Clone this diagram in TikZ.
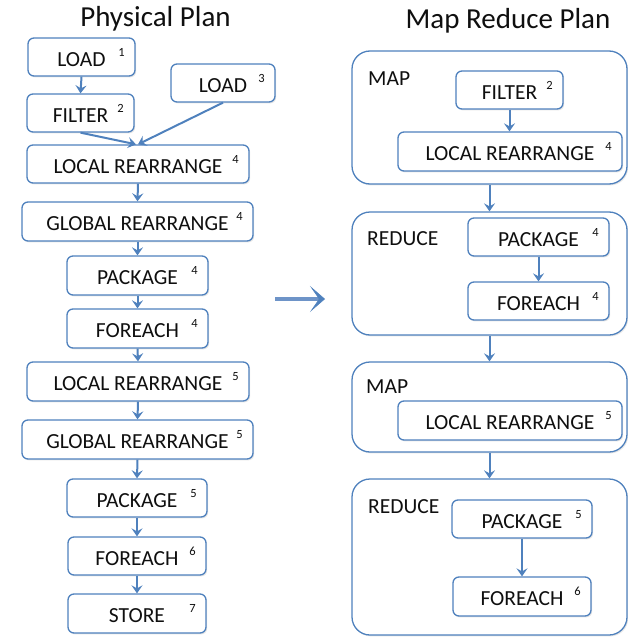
\documentclass[tikz,border=0pt]{standalone}
\usepackage{fontspec}
\setmainfont{Carlito}
\usetikzlibrary{arrows.meta,shadows,calc}
\definecolor{bblue}{RGB}{79,129,189}
\definecolor{bigblue}{RGB}{110,148,200}
\definecolor{txt}{RGB}{15,15,15}
\tikzset{
  opbox/.style={draw=bblue, line width=1.3pt, fill=white, rounded corners=6pt,
    inner sep=0pt, text=txt, font=\fontsize{21.5}{23}\selectfont,
    text height=18pt, text depth=0pt,
    drop shadow={opacity=0.2, shadow xshift=1.2pt, shadow yshift=-1.4pt}},
  supnum/.style={inner sep=0pt, text=txt, font=\fontsize{12.5}{13}\selectfont},
  stage/.style={draw=bblue, line width=1.3pt, fill=white, rounded corners=18pt,
    inner sep=0pt,
    drop shadow={opacity=0.2, shadow xshift=1.2pt, shadow yshift=-1.4pt}},
  stagelabel/.style={anchor=base west, inner sep=0pt, text=txt,
    font=\fontsize{21.5}{23}\selectfont},
  title/.style={anchor=base, inner sep=0pt, text=txt, font=\fontsize{29}{31}\selectfont},
  flow/.style={draw=bblue, line width=2pt, -{Stealth[length=8pt,width=11pt,inset=3pt]}},
  bigflow/.style={draw=bigblue, line width=4.5pt, -{Stealth[length=15pt,width=26pt,inset=9pt,color=bblue,fill=bblue,line width=0.5pt]}}
}
\newcommand\opnode[7]{%
  \node[opbox, minimum width={(#4-#2)*1pt}, minimum height={(#5-#3)*1pt}] (#1) at ({(#2+#4)/2},{(#3+#5)/2}) {#6};
  \node[supnum] (#1-n) at ({#4-13.5},{#3+14.5}) {#7};
}
\newcommand\stagenode[5]{%
  \node[stage, minimum width={(#4-#2)*1pt}, minimum height={(#5-#3)*1pt}] (#1) at ({(#2+#4)/2},{(#3+#5)/2}) {};
}
\begin{document}
\begin{tikzpicture}[x=1pt,y=-1pt]
\useasboundingbox (0,0) rectangle (628,637);
% titles
\node[title] (t1) at (155.5,27) {Physical Plan};
\node[title] (t2) at (508,28.5) {Map Reduce Plan};
% physical plan
\opnode{load1}{28}{38}{135}{76}{LOAD}{1}
\opnode{load3}{171}{64}{275}{102}{LOAD}{3}
\opnode{filter2}{27}{94}{134}{132}{FILTER}{2}
\opnode{lr4}{27}{145}{249}{183}{LOCAL REARRANGE}{4}
\opnode{gr4}{22}{202}{253}{241}{GLOBAL REARRANGE}{4}
\opnode{pk4}{67}{256}{208}{295}{PACKAGE}{4}
\opnode{fe4}{67}{309}{208}{348}{FOREACH}{4}
\opnode{lr5}{27}{362}{249}{401}{LOCAL REARRANGE}{5}
\opnode{gr5}{22}{420}{253}{459}{GLOBAL REARRANGE}{5}
\opnode{pk5}{67}{479}{207}{517}{PACKAGE}{5}
\opnode{fe6}{68}{537}{206}{575}{FOREACH}{6}
\opnode{st7}{68}{594}{206}{633}{STORE}{7}
\draw[flow] (load1.south) -- (filter2.south |- filter2.north);
\draw[flow] (filter2.south) -- ($(lr4.north)+(-2,0)$);
\draw[flow] (load3.south) -- (lr4.north);
\draw[flow] (lr4.south) -- (gr4.north);
\draw[flow] (gr4.south) -- (pk4.north);
\draw[flow] (pk4.south) -- (fe4.north);
\draw[flow] (fe4.south) -- (lr5.north);
\draw[flow] (lr5.south) -- (gr5.north);
\draw[flow] (gr5.south) -- (pk5.north);
\draw[flow] (pk5.south) -- (fe6.north);
\draw[flow] (fe6.south) -- (st7.north);
% big arrow
\coordinate (ba) at (275,299);
\coordinate (bb) at (325,299);
\draw[bigflow] (ba) -- (bb);
% map reduce plan
\stagenode{map1}{352}{51}{627}{184}
\stagenode{red1}{352}{212}{627}{335}
\stagenode{map2}{352}{362}{627}{452}
\stagenode{red2}{352}{479}{627}{635}
\node[stagelabel] (map1l) at (368,85) {MAP};
\node[stagelabel] (red1l) at (367,245) {REDUCE};
\node[stagelabel] (map2l) at (366,393) {MAP};
\node[stagelabel] (red2l) at (368,513) {REDUCE};
\opnode{rfilter2}{456}{71}{563}{109}{FILTER}{2}
\opnode{rlr4}{398}{132}{622}{171}{LOCAL REARRANGE}{4}
\opnode{rpk4}{468}{218}{609}{256}{PACKAGE}{4}
\opnode{rfe4}{468}{282}{609}{320}{FOREACH}{4}
\opnode{rlr5}{398}{401}{622}{440}{LOCAL REARRANGE}{5}
\opnode{rpk5}{452}{500}{592}{538}{PACKAGE}{5}
\opnode{rfe6}{453}{577}{591}{616}{FOREACH}{6}
\draw[flow] (rfilter2.south) -- (rfilter2.south |- rlr4.north);
\draw[flow] (map1.south) -- (red1.north);
\draw[flow] (rpk4.south) -- (rpk4.south |- rfe4.north);
\draw[flow] (red1.south) -- (map2.north);
\draw[flow] (map2.south) -- (red2.north);
\draw[flow] (rpk5.south) -- (rpk5.south |- rfe6.north);
\end{tikzpicture}
\end{document}
